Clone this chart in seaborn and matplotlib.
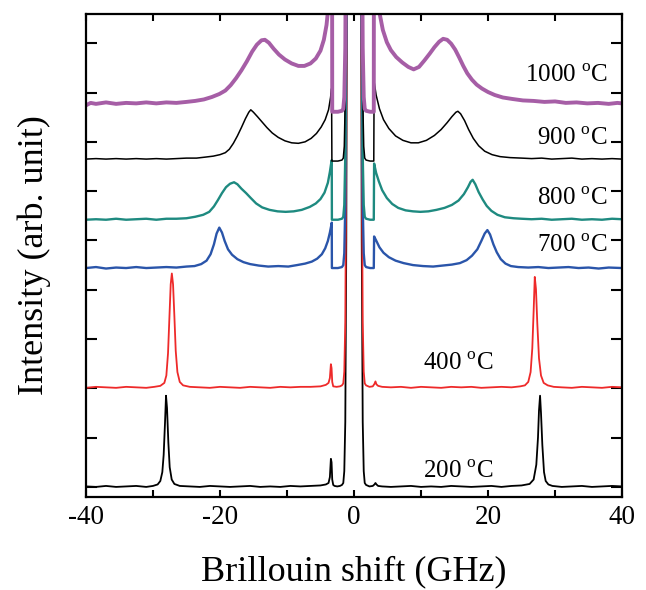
import numpy as np
import pandas as pd
import matplotlib
matplotlib.use("Agg")
import matplotlib.pyplot as plt
import seaborn as sns

# Brillouin spectra: (shift GHz, relative intensity)
# spectra are stacked with a vertical offset per annealing temperature
temps = ["200", "400", "700", "800", "900", "1000"]
offsets = [0.0, 2.01, 4.44, 5.42, 6.65, 7.77]
colors = ["#000000", "#EE2A2A", "#2A55AA", "#1E8A80", "#000000", "#A65EA6"]
widths = [1.3, 1.3, 1.7, 1.7, 1.1, 2.8]

# shape of the central (Rayleigh) line, relative to the local floor
central = [(-1.8, 0.02), (-1.6, 0.06), (-1.45, 0.3), (-1.3, 1.3), (-1.15, 5.0), (-1.0, 15.0),
           (1.0, 15.0), (1.15, 5.0), (1.3, 1.3), (1.45, 0.3), (1.6, 0.06), (1.8, 0.02)]

s200_left = [(-40, 0.01), (-38.5, 0.0), (-37, 0.02), (-35.5, 0.0), (-34, 0.01), (-32.5, 0.02),
             (-31, 0.0), (-30, 0.02), (-29.3, 0.05), (-28.9, 0.12), (-28.6, 0.3), (-28.4, 0.65),
             (-28.2, 1.3), (-28.05, 1.85), (-27.9, 1.6), (-27.7, 0.9), (-27.5, 0.4), (-27.2, 0.15),
             (-26.8, 0.06), (-26, 0.02), (-24.5, 0.01), (-23, 0.0), (-21.5, 0.02), (-20, 0.01),
             (-18.5, 0.0), (-17, 0.01), (-15.5, 0.02), (-14, 0.0), (-12.5, 0.01), (-11, 0.0),
             (-9.5, 0.02), (-8, 0.01), (-6.5, 0.02), (-5, 0.03), (-4.2, 0.05), (-3.8, 0.08),
             (-3.6, 0.2), (-3.45, 0.57), (-3.35, 0.5), (-3.25, 0.15), (-3.1, 0.04), (-2.9, 0.02),
             (-2.5, 0.01), (-2.1, 0.02)]
s200_right = [(2.3, 0.01), (2.8, 0.02), (3.05, 0.05), (3.2, 0.08), (3.35, 0.05), (3.6, 0.02),
              (4.2, 0.01), (5.5, 0.0), (7, 0.01), (8.5, 0.02), (10, 0.0), (11.5, 0.01), (13, 0.0),
              (14.5, 0.02), (16, 0.01), (17.5, 0.0), (19, 0.01), (20.5, 0.02), (22, 0.0),
              (23.5, 0.02), (25, 0.03), (26.2, 0.06), (26.8, 0.15), (27.2, 0.45), (27.45, 1.0),
              (27.6, 1.55), (27.76, 1.85), (27.9, 1.5), (28.1, 0.85), (28.35, 0.3), (28.6, 0.12),
              (29, 0.05), (29.6, 0.02), (31, 0.0), (32.5, 0.01), (34, 0.02), (35.5, 0.0),
              (37, 0.01), (38.5, 0.02), (40, 0.01)]

s400_left = [(-40, 0.0), (-38.5, 0.02), (-37, 0.01), (-35.5, 0.0), (-34, 0.02), (-32.5, 0.01),
             (-31, 0.0), (-29.8, 0.02), (-28.9, 0.04), (-28.3, 0.1), (-28.0, 0.25), (-27.75, 0.7),
             (-27.55, 1.4), (-27.35, 2.1), (-27.18, 2.32), (-27.0, 2.1), (-26.8, 1.45),
             (-26.6, 0.75), (-26.35, 0.32), (-26.0, 0.12), (-25.5, 0.05), (-24.5, 0.02),
             (-23, 0.01), (-21.5, 0.0), (-20, 0.02), (-18.5, 0.01), (-17, 0.0), (-15.5, 0.02),
             (-14, 0.01), (-12.5, 0.0), (-11, 0.02), (-9.5, 0.01), (-8, 0.02), (-6.5, 0.02),
             (-5, 0.03), (-4.2, 0.06), (-3.8, 0.1), (-3.6, 0.2), (-3.45, 0.48), (-3.35, 0.4),
             (-3.25, 0.12), (-3.1, 0.03), (-2.6, 0.02), (-2.1, 0.03)]
s400_right = [(2.3, 0.02), (2.8, 0.03), (3.05, 0.08), (3.2, 0.13), (3.35, 0.07), (3.6, 0.04),
              (4.2, 0.02), (5.5, 0.01), (7, 0.02), (8.5, 0.0), (10, 0.02), (11.5, 0.01),
              (13, 0.0), (14.5, 0.02), (16, 0.01), (17.5, 0.02), (19, 0.0), (20.5, 0.01),
              (22, 0.02), (23.5, 0.01), (24.8, 0.03), (25.5, 0.05), (26.0, 0.12), (26.35, 0.32),
              (26.6, 0.8), (26.8, 1.55), (26.97, 2.25), (27.15, 2.0), (27.35, 1.3), (27.6, 0.6),
              (27.9, 0.25), (28.3, 0.1), (28.9, 0.05), (29.8, 0.02), (31, 0.01), (32.5, 0.0),
              (34, 0.02), (35.5, 0.01), (37, 0.0), (38.5, 0.02), (40, 0.01)]

s700_left = [(-40, 0.0), (-38.5, 0.02), (-37, -0.01), (-35.5, 0.01), (-34, 0.0), (-32.5, 0.02),
             (-31, 0.0), (-29.5, 0.01), (-28, 0.02), (-26.5, 0.01), (-25, 0.03), (-23.8, 0.04),
             (-22.8, 0.08), (-22.0, 0.15), (-21.4, 0.28), (-20.9, 0.48), (-20.5, 0.7),
             (-20.1, 0.82), (-19.7, 0.72), (-19.3, 0.55), (-18.8, 0.38), (-18.2, 0.27),
             (-17.4, 0.18), (-16.5, 0.12), (-15.5, 0.08), (-14.2, 0.05), (-12.8, 0.03),
             (-11.3, 0.04), (-9.8, 0.03), (-8.5, 0.06), (-7.3, 0.09), (-6.3, 0.13), (-5.5, 0.19),
             (-4.8, 0.28), (-4.3, 0.4), (-3.9, 0.55), (-3.6, 0.72), (-3.4, 0.86), (-3.32, 0.92),
             (-3.3, 0.0), (-2.4, 0.0)]
s700_right = [(2.4, 0.0), (2.95, 0.0), (3.0, 0.64), (3.3, 0.56), (3.8, 0.42), (4.4, 0.31),
              (5.2, 0.22), (6.2, 0.15), (7.4, 0.1), (8.8, 0.06), (10.3, 0.04), (11.8, 0.03),
              (13.2, 0.05), (14.6, 0.07), (15.8, 0.1), (16.8, 0.16), (17.6, 0.25), (18.4, 0.38),
              (19.0, 0.55), (19.5, 0.7), (19.9, 0.77), (20.3, 0.68), (20.8, 0.48), (21.3, 0.32),
              (21.9, 0.18), (22.6, 0.09), (23.4, 0.04), (24.5, 0.02), (26, 0.01), (27.5, 0.02),
              (29, 0.0), (30.5, 0.01), (32, 0.02), (33.5, 0.0), (35, 0.01), (36.5, -0.01),
              (38, 0.01), (40, 0.0)]

s800_left = [(-40, 0.0), (-38.5, 0.01), (-37, 0.0), (-35.5, 0.02), (-34, 0.0), (-32.5, 0.01),
             (-31, 0.02), (-29.5, 0.0), (-28, 0.02), (-26.5, 0.02), (-25, 0.03), (-23.7, 0.06),
             (-22.5, 0.1), (-21.6, 0.16), (-20.9, 0.27), (-20.3, 0.4), (-19.7, 0.54),
             (-19.1, 0.66), (-18.5, 0.73), (-17.9, 0.76), (-17.4, 0.72), (-16.8, 0.63),
             (-16.1, 0.54), (-15.4, 0.44), (-14.6, 0.33), (-13.7, 0.25), (-12.6, 0.2),
             (-11.4, 0.17), (-10.2, 0.16), (-9.0, 0.17), (-7.8, 0.2), (-6.6, 0.26), (-5.7, 0.33),
             (-5.0, 0.42), (-4.4, 0.55), (-3.9, 0.75), (-3.6, 0.97), (-3.4, 1.15), (-3.32, 1.21),
             (-3.3, 0.0), (-2.4, 0.0)]
s800_right = [(2.4, 0.0), (2.95, 0.0), (3.0, 1.14), (3.3, 0.95), (3.7, 0.78), (4.2, 0.6),
              (4.9, 0.44), (5.7, 0.32), (6.6, 0.24), (7.7, 0.19), (8.8, 0.17), (9.9, 0.16),
              (11.1, 0.17), (12.3, 0.2), (13.5, 0.24), (14.6, 0.3), (15.6, 0.39), (16.4, 0.52),
              (17.0, 0.66), (17.4, 0.77), (17.7, 0.81), (18.1, 0.72), (18.6, 0.56), (19.2, 0.41),
              (19.8, 0.28), (20.5, 0.18), (21.4, 0.1), (22.5, 0.05), (23.8, 0.03), (25, 0.02),
              (26.5, 0.01), (28, 0.02), (29.5, 0.0), (31, 0.01), (32.5, 0.02), (34, 0.0),
              (35.5, 0.01), (37, 0.0), (38.5, 0.02), (40, 0.01)]

s900_left = [(-40, 0.0), (-38.5, 0.01), (-37, 0.0), (-35.5, 0.01), (-34, 0.0), (-32.5, 0.01),
             (-31, 0.0), (-29.5, 0.01), (-28, 0.0), (-26.5, 0.01), (-25, 0.02), (-23.5, 0.02),
             (-22.2, 0.04), (-21, 0.06), (-20, 0.09), (-19.2, 0.13), (-18.6, 0.2), (-18.0, 0.32),
             (-17.4, 0.47), (-16.8, 0.64), (-16.2, 0.82), (-15.7, 0.95), (-15.4, 1.0),
             (-15.0, 0.95), (-14.4, 0.86), (-13.7, 0.75), (-13.0, 0.64), (-12.2, 0.53),
             (-11.3, 0.44), (-10.3, 0.37), (-9.3, 0.33), (-8.3, 0.32), (-7.3, 0.35), (-6.4, 0.42),
             (-5.6, 0.52), (-4.9, 0.65), (-4.3, 0.8), (-3.8, 1.0), (-3.5, 1.25), (-3.35, 1.43),
             (-3.3, -0.04), (-2.4, -0.04)]
s900_right = [(2.4, -0.04), (2.95, -0.04), (3.0, 1.57), (3.3, 1.3), (3.8, 1.02), (4.4, 0.8),
              (5.2, 0.62), (6.2, 0.47), (7.3, 0.38), (8.5, 0.33), (9.6, 0.33), (10.8, 0.38),
              (12.0, 0.48), (13.0, 0.6), (13.9, 0.74), (14.6, 0.86), (15.2, 0.95), (15.5, 0.97),
              (15.9, 0.92), (16.5, 0.78), (17.1, 0.6), (17.8, 0.42), (18.6, 0.27), (19.5, 0.16),
              (20.6, 0.09), (21.8, 0.05), (23.3, 0.03), (25, 0.02), (26.5, 0.01), (28, 0.02),
              (29.5, 0.0), (31, 0.01), (32.5, 0.02), (34, 0.0), (35.5, 0.01), (37, 0.0),
              (38.5, 0.01), (40, 0.0)]

s1000_left = [(-40, -0.03), (-39.3, 0.02), (-38.5, 0.0), (-37, 0.03), (-35.5, 0.0), (-34, 0.02),
              (-32.5, 0.01), (-31, 0.03), (-29.5, 0.01), (-28, 0.03), (-26.5, 0.02), (-25, 0.04),
              (-23.7, 0.06), (-22.4, 0.09), (-21.2, 0.14), (-20.1, 0.2), (-19.2, 0.27),
              (-18.4, 0.38), (-17.6, 0.52), (-16.8, 0.68), (-16.0, 0.86), (-15.2, 1.06),
              (-14.5, 1.2), (-13.8, 1.29), (-13.3, 1.3), (-12.7, 1.24), (-12.0, 1.12),
              (-11.2, 1.0), (-10.3, 0.9), (-9.3, 0.82), (-8.3, 0.77), (-7.4, 0.77), (-6.5, 0.82),
              (-5.7, 0.92), (-5.0, 1.08), (-4.5, 1.3), (-4.1, 1.6), (-3.8, 2.0), (-3.5, 2.6),
              (-3.27, 3.2), (-3.25, -0.16), (-2.4, -0.16)]
s1000_right = [(2.4, -0.16), (2.95, -0.16), (2.97, 3.2), (3.4, 2.4), (3.8, 1.85), (4.3, 1.5),
               (4.9, 1.25), (5.5, 1.09), (6.3, 0.95), (7.2, 0.84), (8.1, 0.75), (8.9, 0.7),
               (9.7, 0.75), (10.5, 0.88), (11.3, 1.02), (12.0, 1.15), (12.7, 1.26), (13.3, 1.32),
               (13.9, 1.3), (14.5, 1.22), (15.1, 1.1), (15.7, 0.94), (16.3, 0.77), (16.9, 0.62),
               (17.6, 0.49), (18.3, 0.39), (19.1, 0.31), (20.0, 0.24), (21.0, 0.18), (22.2, 0.13),
               (23.6, 0.1), (25.2, 0.07), (26.8, 0.06), (28.4, 0.04), (30.0, 0.05), (31.6, 0.02),
               (33.2, 0.03), (34.8, 0.01), (36.4, 0.02), (38.0, 0.0), (39.3, 0.02), (40, 0.01)]

lefts = [s200_left, s400_left, s700_left, s800_left, s900_left, s1000_left]
rights = [s200_right, s400_right, s700_right, s800_right, s900_right, s1000_right]

# label positions (x of right edge, y of baseline) for each temperature
label_x = [20.8, 20.8, 37.9, 37.9, 37.9, 37.9]
label_y = [0.18, 2.37, 4.77, 5.72, 6.94, 8.21]

# build one long table
rows = []
for t, off, left, right in zip(temps, offsets, lefts, rights):
    floor = left[-1][1]
    pts = left + [(x, floor + y) for x, y in central] + right
    for x, y in pts:
        rows.append({"shift": x, "intensity": y + off, "temp": t})
df = pd.DataFrame(rows)

sns.set_style("ticks")
plt.rcParams["font.family"] = ["Liberation Serif", "DejaVu Serif"]
plt.rcParams["mathtext.fontset"] = "custom"
plt.rcParams["mathtext.rm"] = "Liberation Serif"
plt.rcParams["axes.unicode_minus"] = False
plt.rcParams["text.color"] = "black"
plt.rcParams["axes.labelcolor"] = "black"
plt.rcParams["xtick.color"] = "black"
plt.rcParams["ytick.color"] = "black"

fig = plt.figure(figsize=(6.46, 5.9), dpi=100)
ax = fig.add_axes([0.133, 0.158, 0.830, 0.818])

for t, c, lw in zip(temps, colors, widths):
    sns.lineplot(data=df[df["temp"] == t], x="shift", y="intensity", color=c,
                 linewidth=lw, sort=False, estimator=None, ax=ax, legend=False)

for t, lx, ly in zip(temps, label_x, label_y):
    ax.text(lx, ly, t + r" $^{\rm o}$C", fontsize=18, ha="right", va="baseline",
            color="black")

ax.set_xlim(-40, 40)
ax.set_ylim(-0.2, 9.59)
ax.set_xticks([-40, -20, 0, 20, 40])
ax.set_xticks([-30, -10, 10, 30], minor=True)
ax.set_yticks(range(10))
ax.set_yticklabels([])

ax.tick_params(axis="both", which="both", direction="in", top=True, right=True,
               color="black", labelcolor="black", width=1.5)
ax.tick_params(axis="x", which="both", length=5, labelsize=19.5, pad=6)
ax.tick_params(axis="y", which="both", length=8)
for sp in ax.spines.values():
    sp.set_linewidth(1.6)
    sp.set_color("black")

ax.set_xlabel("Brillouin shift (GHz)", fontsize=26, color="black")
ax.set_ylabel("Intensity (arb. unit)", fontsize=26, color="black")
ax.xaxis.set_label_coords(0.5, -0.122)
ax.yaxis.set_label_coords(-0.065, 0.5)

fig.savefig("out.png", dpi=100)
